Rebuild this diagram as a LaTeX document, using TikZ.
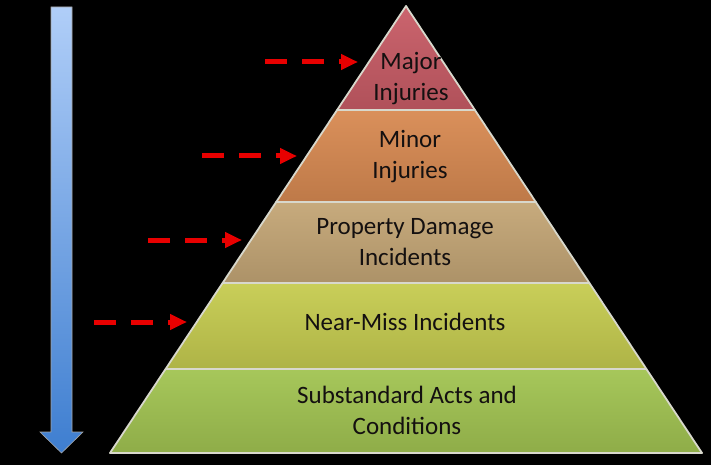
\documentclass[tikz,border=0pt]{standalone}
\usepackage{fontspec}
\setmainfont{Carlito}
\usetikzlibrary{arrows.meta}
\definecolor{cMajor}{HTML}{C85C66}
\definecolor{cMinor}{HTML}{D88A52}
\definecolor{cProp}{HTML}{C4A676}
\definecolor{cNear}{HTML}{C6CC50}
\definecolor{cSub}{HTML}{A2C452}
\definecolor{cEdge}{HTML}{D8D8CC}
\definecolor{cText}{HTML}{141010}
\definecolor{cRed}{HTML}{E80000}
\definecolor{cBlueTop}{HTML}{B0CEF8}
\definecolor{cBlueBot}{HTML}{3E7ED0}
\tikzset{
  layer/.style={draw=cEdge, line width=1.8pt, line join=round},
  lbl/.style={text=cText, font=\fontsize{25}{31}\selectfont, align=center, inner sep=0pt},
  redarrow/.style={draw=cRed, line width=5pt, dash pattern=on 22pt off 15pt,
    -{Triangle[length=17pt,width=15pt]}}
}
\begin{document}
\begin{tikzpicture}[x=1pt,y=-1pt]
\fill[black] (0,0) rectangle (711,465);
\useasboundingbox (0,0) rectangle (711,465);
% blue arrow
\shade[top color=cBlueTop, bottom color=cBlueBot, draw=gray!70, line width=0.6pt]
  (51,7) -- (72,7) -- (72,432) -- (83,432) -- (61.5,453) -- (40,432) -- (51,432) -- cycle;
% pyramid layers
\shade[layer, top color=cSub!95!white, bottom color=cSub!88!black]
  (165.6,369) -- (646.4,369) -- (702,453) -- (110,453) -- cycle;
\shade[layer, top color=cNear!95!white, bottom color=cNear!88!black]
  (222.6,283) -- (589.4,283) -- (646.4,369) -- (165.6,369) -- cycle;
\shade[layer, top color=cProp!95!white, bottom color=cProp!88!black]
  (276.2,202) -- (535.8,202) -- (589.4,283) -- (222.6,283) -- cycle;
\shade[layer, top color=cMinor!95!white, bottom color=cMinor!88!black]
  (337.1,110) -- (474.9,110) -- (535.8,202) -- (276.2,202) -- cycle;
\shade[layer, top color=cMajor!95!white, bottom color=cMajor!88!black]
  (406,6) -- (474.9,110) -- (337.1,110) -- cycle;
% labels
\node[lbl] (major) at (411,79) {Major\\Injuries};
\node[lbl] (minor) at (410,157) {Minor\\Injuries};
\node[lbl] (prop) at (405,242) {Property Damage\\Incidents};
\node[lbl] (near) at (405,322) {Near-Miss Incidents};
\node[lbl] (sub) at (407,410) {Substandard Acts and\\Conditions};
% red dashed arrows
\coordinate (a1s) at (265,62); \coordinate (a1e) at (358,62);
\coordinate (a2s) at (202,156); \coordinate (a2e) at (297,156);
\coordinate (a3s) at (148,240); \coordinate (a3e) at (242,240);
\coordinate (a4s) at (94,322); \coordinate (a4e) at (187,322);
\draw[redarrow] (a1s) -- (a1e);
\draw[redarrow] (a2s) -- (a2e);
\draw[redarrow] (a3s) -- (a3e);
\draw[redarrow] (a4s) -- (a4e);
\end{tikzpicture}
\end{document}
